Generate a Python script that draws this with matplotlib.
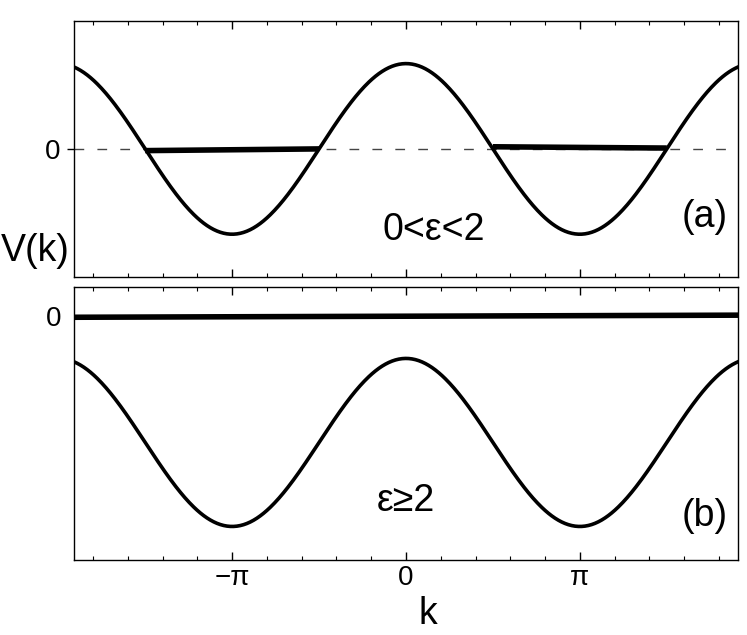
import numpy as np
import matplotlib
matplotlib.use("Agg")
import matplotlib.pyplot as plt
from matplotlib.ticker import MultipleLocator

plt.rcParams['font.family'] = ['Liberation Sans', 'DejaVu Sans']

# k range shown on both panels
k_min, k_max = -6.0, 6.0

# V(k) = offset + amplitude*cos(k)
offset_a, amp_a = 0.0, 1.0
offset_b, amp_b = -1.5, 1.0

# thick level segments (k start, k end, V start, V end)
seg_a_k = [[-3 * np.pi / 2, -np.pi / 2], [np.pi / 2, 3 * np.pi / 2]]
seg_a_v = [[-0.02, 0.0], [0.025, 0.01]]
seg_b_k = [k_min, k_max]
seg_b_v = [-0.01, 0.015]

xtick_pos = [-np.pi, 0, np.pi]
xtick_lab = ['\u2212\u03c0', '0', '\u03c0']

fig = plt.figure(figsize=(7.47, 6.35), dpi=100)
ax1 = fig.add_axes([0.099, 0.564, 0.889, 0.403])
ax2 = fig.add_axes([0.099, 0.118, 0.889, 0.430])

k = np.linspace(k_min, k_max, 600)

# panel (a)
ax1.axhline(0, color='#444444', lw=1.0, dashes=(7, 9.5), zorder=1)
ax1.plot(k, offset_a + amp_a * np.cos(k), color='black', lw=2.6)
for ks, vs in zip(seg_a_k, seg_a_v):
    ax1.plot(ks, vs, color='black', lw=4.0, solid_capstyle='butt')
ax1.set_ylim(-1.5, 1.5)
ax1.text(0.5, -0.95, '0<\u03b5<2', fontsize=27, ha='center', va='center')
ax1.text(5.4, -0.8, '(a)', fontsize=27, ha='center', va='center')

# panel (b)
ax2.plot(k, offset_b + amp_b * np.cos(k), color='black', lw=2.6)
ax2.plot(seg_b_k, seg_b_v, color='black', lw=4.0, solid_capstyle='butt')
ax2.set_ylim(-2.9, 0.35)
ax2.text(0.0, -2.2, '\u03b5\u22652', fontsize=27, ha='center', va='center')
ax2.text(5.4, -2.38, '(b)', fontsize=27, ha='center', va='center')

for ax in (ax1, ax2):
    ax.set_xlim(k_min, k_max)
    ax.xaxis.set_major_locator(MultipleLocator(np.pi))
    ax.xaxis.set_minor_locator(MultipleLocator(np.pi / 5))
    ax.tick_params(axis='x', which='both', direction='in', top=True, bottom=True)
    ax.tick_params(axis='x', which='major', length=6, width=1, labelsize=20)
    ax.tick_params(axis='x', which='minor', length=3, width=0.8)
    ax.set_yticks([0])
    ax.set_yticklabels(['0'])
    ax.tick_params(axis='y', direction='out', length=5, width=1, pad=5,
                   labelsize=20)
    for s in ax.spines.values():
        s.set_linewidth(1.0)

ax2.tick_params(axis='y', length=0, pad=9)
ax1.set_xticklabels([])
ax2.set_xticks(xtick_pos)
ax2.set_xticklabels(xtick_lab)
ax2.xaxis.set_minor_locator(MultipleLocator(np.pi / 5))

fig.text(0.047, 0.605, 'V(k)', fontsize=27, ha='center', va='center')
fig.text(0.573, 0.033, 'k', fontsize=27, ha='center', va='center')

fig.savefig('out.png', dpi=100)
